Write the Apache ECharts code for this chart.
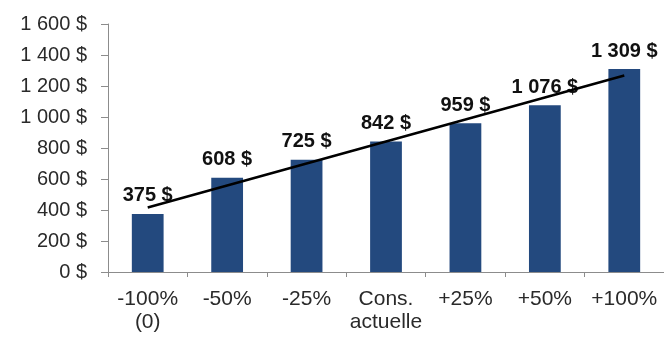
<!DOCTYPE html>
<html>
<head>
<meta charset="utf-8">
<script src="https://cdn.jsdelivr.net/npm/echarts@6/dist/echarts.min.js"></script>
<style>html,body{margin:0;padding:0;background:#fff}#c{width:664px;height:337px}</style>
</head>
<body>
<div id="c"></div>
<script>
var categories = ["-100%\n(0)", "-50%", "-25%", "Cons.\nactuelle", "+25%", "+50%", "+100%"];
var values = [375, 608, 725, 842, 959, 1076, 1309];
var yTicks = [0, 200, 400, 600, 800, 1000, 1200, 1400, 1600];

function fmt(v) {
  return String(v).replace(/\B(?=(\d{3})+(?!\d))/g, ' ') + ' $';
}
// least-squares linear trend line from the data
var n = values.length, mx = (n - 1) / 2, my = values.reduce(function(a,b){return a+b;},0) / n;
var sxy = 0, sxx = 0;
for (var i = 0; i < n; i++) { sxy += (i - mx) * (values[i] - my); sxx += (i - mx) * (i - mx); }
var slope = sxy / sxx, icpt = my - slope * mx;
var trend = values.map(function(_, i){ return icpt + slope * i; });

var chart = echarts.init(document.getElementById('c'), null, {renderer: 'canvas'});
chart.setOption({
  animation: false,
  textStyle: {fontFamily: 'Liberation Sans, Arial, sans-serif'},
  grid: {left: 108, right: 0, top: 24, bottom: 65},
  xAxis: {
    type: 'category',
    data: categories,
    axisLine: {lineStyle: {color: '#8c8c8c'}},
    axisTick: {show: true, length: 5, lineStyle: {color: '#8c8c8c'}},
    axisLabel: {color: '#2a2a2a', fontSize: 21, lineHeight: 23, margin: 16, interval: 0}
  },
  yAxis: {
    type: 'value',
    min: yTicks[0], max: yTicks[yTicks.length - 1], interval: 200,
    splitLine: {show: false},
    axisLine: {show: true, lineStyle: {color: '#8c8c8c'}},
    axisTick: {show: true, length: 7, lineStyle: {color: '#8c8c8c'}},
    axisLabel: {color: '#2a2a2a', fontSize: 20, margin: 21, formatter: fmt}
  },
  series: [{
    type: 'bar',
    data: values,
    barWidth: '40%',
    itemStyle: {color: '#23497e'},
    label: {show: true, position: 'top', distance: 8, fontSize: 20, fontWeight: 'bold', color: '#111',
      formatter: function(p){ return fmt(p.value); }}
  }, {
    type: 'line',
    data: trend,
    symbol: 'none',
    lineStyle: {color: '#000', width: 2.5},
    z: 5
  }]
});
</script>
</body>
</html>
